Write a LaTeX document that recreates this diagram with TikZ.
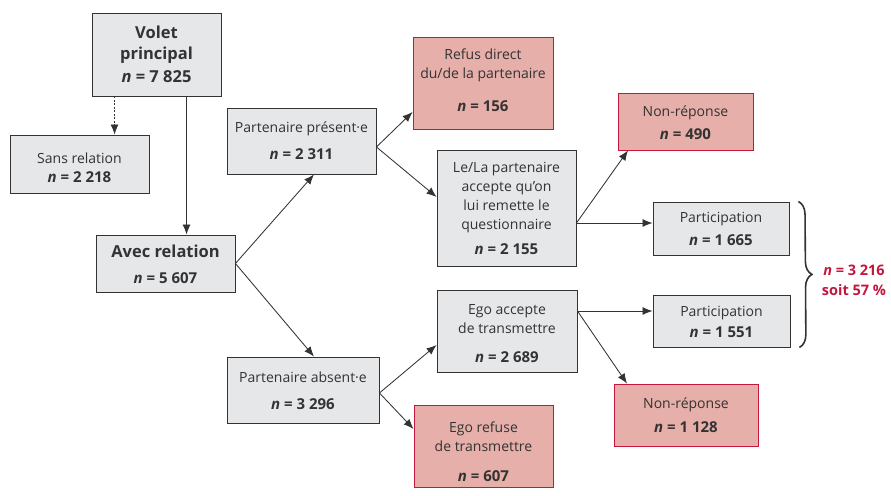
\documentclass[tikz,border=0pt]{standalone}
\usepackage{fontspec}
\setmainfont{Open Sans}
\usetikzlibrary{arrows.meta,calc,decorations.pathreplacing}
\definecolor{boxgray}{HTML}{E6E7E8}
\definecolor{boxpink}{HTML}{E6AFA9}
\definecolor{crim}{HTML}{C4173F}
\definecolor{ink}{HTML}{333333}
\newcommand\nval[1]{{\fontsize{15}{19}\selectfont\bfseries\itshape n\upshape{} = #1}}
\newcommand\bigtitle[1]{{\fontsize{16.5}{21}\selectfont\bfseries #1}}
% raise (negative: lower) the text block without changing its size for centring
\newcommand\shiftt[2]{\raisebox{#1}[\height][\depth]{\begin{tabular}{@{}c@{}}#2\end{tabular}}}
\begin{document}
\begin{tikzpicture}[x=1pt,y=-1pt,
  box/.style={draw=ink, fill=boxgray, line width=0.9pt, inner sep=0pt, align=center,
    text=ink, font=\fontsize{14}{19}\selectfont},
  redbox/.style={box, draw=crim, fill=boxpink},
  arr/.style={-{Latex[length=10pt,width=8pt]}, line width=0.85pt, draw=ink}]
\useasboundingbox (0,0) rectangle (891,495);

% boxes
\node[box, minimum width=129pt, minimum height=83pt, font=\fontsize{16.5}{21}\selectfont\bfseries] (volet) at (156.5,54.5)
  {Volet\\principal\\[2pt]\textit{n} = 7~825};
\node[box, minimum width=139pt, minimum height=58pt] (sans) at (79.5,164)
  {\shiftt{-5pt}{Sans relation\\\nval{2~218}}};
\node[box, minimum width=139pt, minimum height=57pt] (avec) at (165.5,263.5)
  {\shiftt{-3pt}{\bigtitle{Avec relation}\\[7pt]\nval{5~607}}};
\node[box, minimum width=149pt, minimum height=66pt] (pres) at (301.5,141)
  {\shiftt{-1pt}{Partenaire présent·e\\[8pt]\nval{2~311}}};
\node[redbox, minimum width=140pt, minimum height=92pt] (refus) at (483,83)
  {\shiftt{1.5pt}{Refus direct\\du/de la partenaire\\[14pt]\nval{156}}};
\node[box, minimum width=139pt, minimum height=116pt] (lela) at (506.5,208)
  {Le/La partenaire\\accepte qu’on\\lui remette le\\questionnaire\\[6pt]\nval{2~155}};
\node[redbox, minimum width=135pt, minimum height=57pt] (nr1) at (685.5,121.5)
  {\shiftt{-3pt}{Non-réponse\\[4pt]\nval{490}}};
\node[box, minimum width=136pt, minimum height=53pt] (part1) at (721,228.5)
  {\shiftt{-1.5pt}{Participation\\[4pt]\nval{1~665}}};
\node[box, minimum width=137pt, minimum height=52pt] (part2) at (721.5,321)
  {\shiftt{-2pt}{Participation\\[2pt]\nval{1~551}}};
\node[redbox, minimum width=144pt, minimum height=62pt] (nr2) at (686,415)
  {\shiftt{-1.5pt}{Non-réponse\\[5pt]\nval{1~128}}};
\node[box, minimum width=140pt, minimum height=82pt] (ego) at (507,331)
  {\shiftt{-4pt}{Ego accepte\\de transmettre\\[10pt]\nval{2~689}}};
\node[box, minimum width=152pt, minimum height=66pt] (abs) at (303,390)
  {\shiftt{-2pt}{Partenaire absent·e\\[8pt]\nval{3~296}}};
\node[redbox, minimum width=139pt, minimum height=82pt] (refuse) at (483.5,446)
  {\shiftt{-7pt}{Ego refuse\\de transmettre\\[11pt]\nval{607}}};

% connectors
\coordinate (vs) at ($(volet.south west)+(23,0)$);
\coordinate (va) at ($(volet.south west)+(95,0)$);
\draw[arr, dash pattern=on 2pt off 1.5pt] (vs) -- (vs |- sans.north);
\draw[arr] (va) -- (va |- avec.north);
\draw[arr] (avec.east) -- ($(pres.south)+(12.5,0)$);
\draw[arr] (avec.east) -- ($(abs.north)+(11,0)$);
\coordinate (ps) at ($(pres.east)+(0,6)$);
\draw[arr] (ps) -- ($(refus.west)+(0,29)$);
\draw[arr] (ps) -- ($(lela.west)+(0,-11)$);
\coordinate (ls) at ($(lela.east)+(0,15)$);
\draw[arr] (ls) -- ($(nr1.south)+(-57.5,0)$);
\draw[arr] (ls) -- (ls -| part1.west);
\coordinate (as) at ($(abs.east)+(0,3)$);
\draw[arr] (as) -- ($(ego.west)+(0,14)$);
\draw[arr] (as) -- ($(refuse.west)+(0,-17)$);
\coordinate (es) at ($(ego.east)+(0,-20)$);
\draw[arr] (es) -- (es -| part2.west);
\draw[arr] (es) -- ($(nr2.north)+(-59,0)$);

% brace
\coordinate (bt) at ($(part1.north east)+(9,0)$);
\coordinate (bb) at ($(part2.south east)+(9,0)$);
\draw[ink, line width=1.6pt, decorate, decoration={brace, amplitude=13pt}] (bt) -- (bb);
\node[text=crim, align=center, inner sep=0pt, font=\fontsize{14.5}{20}\selectfont\bfseries] (tot) at (854,280)
  {\textit{n} = 3~216\\soit 57~\%};
\end{tikzpicture}
\end{document}
